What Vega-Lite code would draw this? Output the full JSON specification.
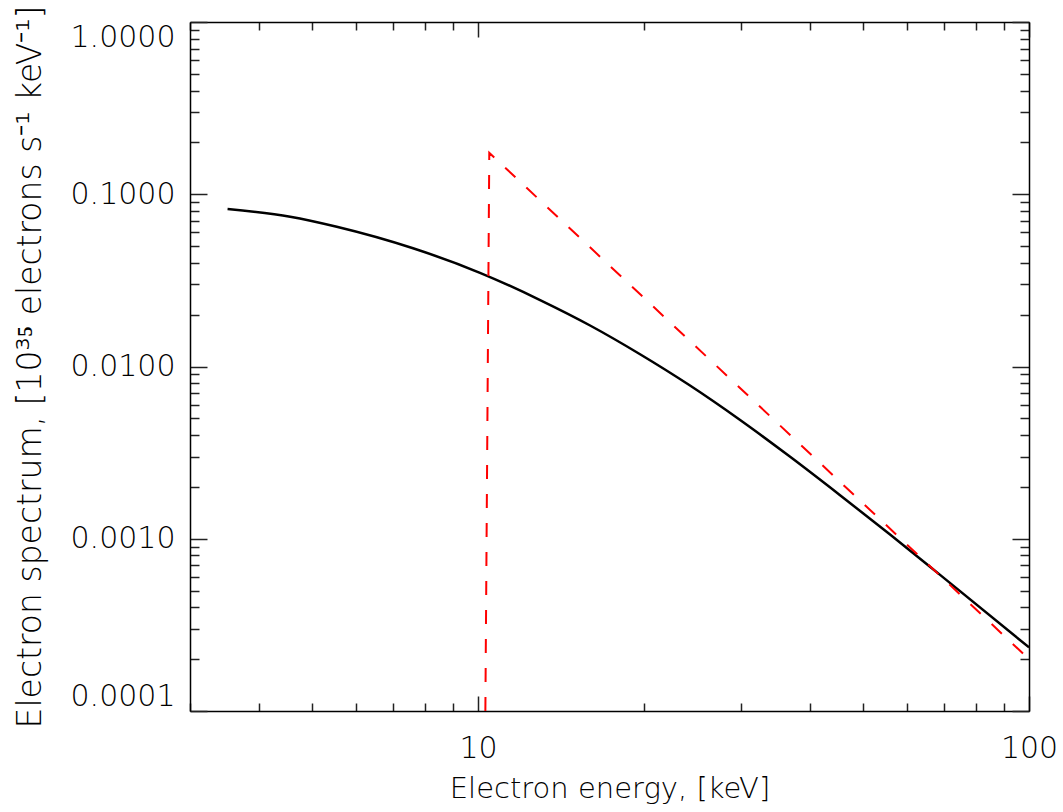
{
  "$schema": "https://vega.github.io/schema/vega-lite/v6.json",
  "width": 839,
  "height": 689,
  "autosize": "none",
  "padding": {"left": 190, "top": 22, "right": 34, "bottom": 101},
  "background": "white",
  "config": {
    "view": {"stroke": null},
    "font": "DejaVu Sans",
    "axis": {
      "domainColor": "black",
      "domainWidth": 1.5,
      "tickColor": "#222222",
      "tickWidth": 1.5,
      "labelFont": "DejaVu Sans",
      "labelFontWeight": 200,
      "labelColor": "black",
      "labelFontSize": 30,
      "titleFont": "DejaVu Sans",
      "titleFontWeight": 200,
      "titleColor": "black",
      "grid": false,
      "labelOverlap": false,
      "labelBound": false
    }
  },
  "datasets": {
    "thick": [
      {"E": 3.51, "flux": 0.0821},
      {"E": 4.56, "flux": 0.0741},
      {"E": 5.54, "flux": 0.0648},
      {"E": 7.62, "flux": 0.0486},
      {"E": 10.08, "flux": 0.0350},
      {"E": 12.96, "flux": 0.0243},
      {"E": 15.97, "flux": 0.0173},
      {"E": 19.68, "flux": 0.01178},
      {"E": 24.25, "flux": 0.00775},
      {"E": 29.9, "flux": 0.00489},
      {"E": 36.8, "flux": 0.00300},
      {"E": 45.4, "flux": 0.00179},
      {"E": 55.95, "flux": 0.001058},
      {"E": 68.96, "flux": 0.000617},
      {"E": 100, "flux": 0.000234}
    ],
    "thin": [
      {"E": 10.31, "flux": 0.0001},
      {"E": 10.48, "flux": 0.174},
      {"E": 20, "flux": 0.02504},
      {"E": 50, "flux": 0.001602},
      {"E": 100, "flux": 0.0002}
    ]
  },
  "layer": [
    {
      "data": {"name": "thick"},
      "mark": {"type": "line", "color": "black", "strokeWidth": 2.5, "clip": true, "interpolate": "monotone"},
      "encoding": {
        "x": {
          "field": "E", "type": "quantitative",
          "scale": {"type": "log", "domain": [3, 100], "nice": false},
          "axis": {
            "orient": "bottom",
            "title": "Electron energy, [keV]",
            "titleFontSize": 29,
            "titleBaseline": "alphabetic",
            "titleX": 419.5,
            "titleY": 86,
            "values": [3, 4, 5, 6, 7, 8, 9, 10, 20, 30, 40, 50, 60, 70, 80, 90, 100],
            "tickSize": {"condition": {"test": "abs(log(datum.value)/LN10 - round(log(datum.value)/LN10)) < 0.000001", "value": -15}, "value": -8},
            "labelExpr": "abs(log(datum.value)/LN10 - round(log(datum.value)/LN10)) < 0.000001 ? format(datum.value, 'd') : ''",
            "labelBaseline": "alphabetic",
            "labelPadding": 61,
            "labelFlush": false
          }
        },
        "y": {
          "field": "flux", "type": "quantitative",
          "scale": {"type": "log", "domain": [0.0001, 1], "nice": false},
          "axis": {
            "orient": "left",
            "title": "Electron spectrum, [10³⁵ electrons s⁻¹ keV⁻¹]",
            "titleFontSize": 33,
            "titleBaseline": "alphabetic",
            "titleAngle": -90,
            "titleX": -150,
            "titleY": 344.5,
            "values": [0.0001, 0.0002, 0.0003, 0.0004, 0.0005, 0.0006, 0.0007, 0.0008, 0.0009, 0.001, 0.002, 0.003, 0.004, 0.005, 0.006, 0.007, 0.008, 0.009, 0.01, 0.02, 0.03, 0.04, 0.05, 0.06, 0.07, 0.08, 0.09, 0.1, 0.2, 0.3, 0.4, 0.5, 0.6, 0.7, 0.8, 0.9, 1],
            "tickSize": {"condition": {"test": "abs(log(datum.value)/LN10 - round(log(datum.value)/LN10)) < 0.000001", "value": -17}, "value": -9},
            "labelExpr": "abs(log(datum.value)/LN10 - round(log(datum.value)/LN10)) < 0.000001 ? format(datum.value, '.4f') : ''",
            "labelPadding": 32,
            "labelFlush": true
          }
        }
      }
    },
    {
      "data": {"name": "thin"},
      "mark": {"type": "line", "color": "#ff0000", "strokeWidth": 2, "strokeDash": [14, 15], "clip": true},
      "encoding": {
        "x": {
          "field": "E", "type": "quantitative",
          "scale": {"type": "log", "domain": [3, 100], "nice": false},
          "axis": {
            "orient": "top",
            "title": null,
            "labels": false,
            "values": [3, 4, 5, 6, 7, 8, 9, 10, 20, 30, 40, 50, 60, 70, 80, 90, 100],
            "tickSize": {"condition": {"test": "abs(log(datum.value)/LN10 - round(log(datum.value)/LN10)) < 0.000001", "value": -15}, "value": -8}
          }
        },
        "y": {
          "field": "flux", "type": "quantitative",
          "scale": {"type": "log", "domain": [0.0001, 1], "nice": false},
          "axis": {
            "orient": "right",
            "title": null,
            "labels": false,
            "values": [0.0001, 0.0002, 0.0003, 0.0004, 0.0005, 0.0006, 0.0007, 0.0008, 0.0009, 0.001, 0.002, 0.003, 0.004, 0.005, 0.006, 0.007, 0.008, 0.009, 0.01, 0.02, 0.03, 0.04, 0.05, 0.06, 0.07, 0.08, 0.09, 0.1, 0.2, 0.3, 0.4, 0.5, 0.6, 0.7, 0.8, 0.9, 1],
            "tickSize": {"condition": {"test": "abs(log(datum.value)/LN10 - round(log(datum.value)/LN10)) < 0.000001", "value": -17}, "value": -9}
          }
        }
      }
    }
  ],
  "resolve": {"axis": {"x": "independent", "y": "independent"}}
}
